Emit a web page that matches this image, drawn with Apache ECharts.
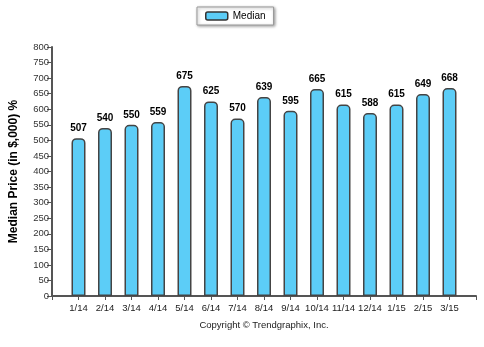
<!DOCTYPE html>
<html>
<head>
<meta charset="utf-8">
<script src="https://cdn.jsdelivr.net/npm/echarts@6/dist/echarts.min.js"></script>
<style>
  html, body { margin: 0; padding: 0; background: #fff; }
  #chart { width: 484px; height: 347px; }
</style>
</head>
<body>
<div id="chart"></div>
<script>
// Monthly median sale price, in thousands of dollars
const months = ['1/14', '2/14', '3/14', '4/14', '5/14', '6/14', '7/14', '8/14', '9/14', '10/14', '11/14', '12/14', '1/15', '2/15', '3/15'];
const medianValues = [507, 540, 550, 559, 675, 625, 570, 639, 595, 665, 615, 588, 615, 649, 668];
const yTicks = { min: 0, max: 800, interval: 50 };

// Pad the category axis with an empty slot at each end
const axisCategories = [''].concat(months, ['']);
const seriesData = [null].concat(medianValues, [null]);

const font = 'Arial, "Liberation Sans", sans-serif';
const chart = echarts.init(document.getElementById('chart'));
chart.setOption({
  animation: false,
  grid: { left: 47, right: 8, top: 47, bottom: 51, containLabel: false },
  legend: {
    top: 7,
    left: 197,
    padding: [4, 8, 4, 8],
    borderColor: '#999',
    borderWidth: 1,
    shadowColor: 'rgba(0,0,0,0.35)',
    shadowBlur: 3,
    shadowOffsetX: 1,
    shadowOffsetY: 1,
    backgroundColor: '#fff',
    itemWidth: 22,
    itemHeight: 8,
    itemGap: 4,
    textStyle: { fontFamily: font, fontSize: 10, color: '#000' },
    data: [{ name: 'Median', itemStyle: { color: '#5ccdf7', borderColor: '#333', borderWidth: 1.5 } }]
  },
  xAxis: {
    type: 'category',
    data: axisCategories,
    boundaryGap: false,
    axisLine: { lineStyle: { color: '#555', width: 2 } },
    axisTick: { show: true, length: 4, lineStyle: { color: '#555', width: 1 } },
    axisLabel: { fontFamily: font, fontSize: 9.5, color: '#222', margin: 7, interval: 0 },
    splitLine: { show: false },
    name: 'Copyright \u00A9 Trendgraphix, Inc.',
    nameLocation: 'middle',
    nameGap: 24,
    nameTextStyle: { fontFamily: font, fontSize: 9.5, color: '#222' }
  },
  yAxis: {
    type: 'value',
    min: yTicks.min,
    max: yTicks.max,
    interval: yTicks.interval,
    axisLine: { show: true, lineStyle: { color: '#555', width: 2 } },
    axisTick: { show: true, length: 5, lineStyle: { color: '#555', width: 1 } },
    axisLabel: { fontFamily: font, fontSize: 9.5, color: '#333', margin: 3 },
    splitLine: { show: false },
    name: 'Median Price (in $,000) %',
    nameLocation: 'middle',
    nameGap: 32,
    nameTextStyle: { fontFamily: font, fontSize: 12, fontWeight: 'bold', color: '#000' }
  },
  series: [{
    name: 'Median',
    type: 'bar',
    data: seriesData,
    barWidth: 14,
    itemStyle: { color: '#5ccdf7', borderColor: '#444', borderWidth: 1.5, borderRadius: [4, 4, 0, 0] },
    label: {
      show: true,
      position: 'top',
      distance: 5,
      fontFamily: font,
      fontSize: 10,
      fontWeight: 'bold',
      color: '#000'
    }
  }]
});
</script>
</body>
</html>
